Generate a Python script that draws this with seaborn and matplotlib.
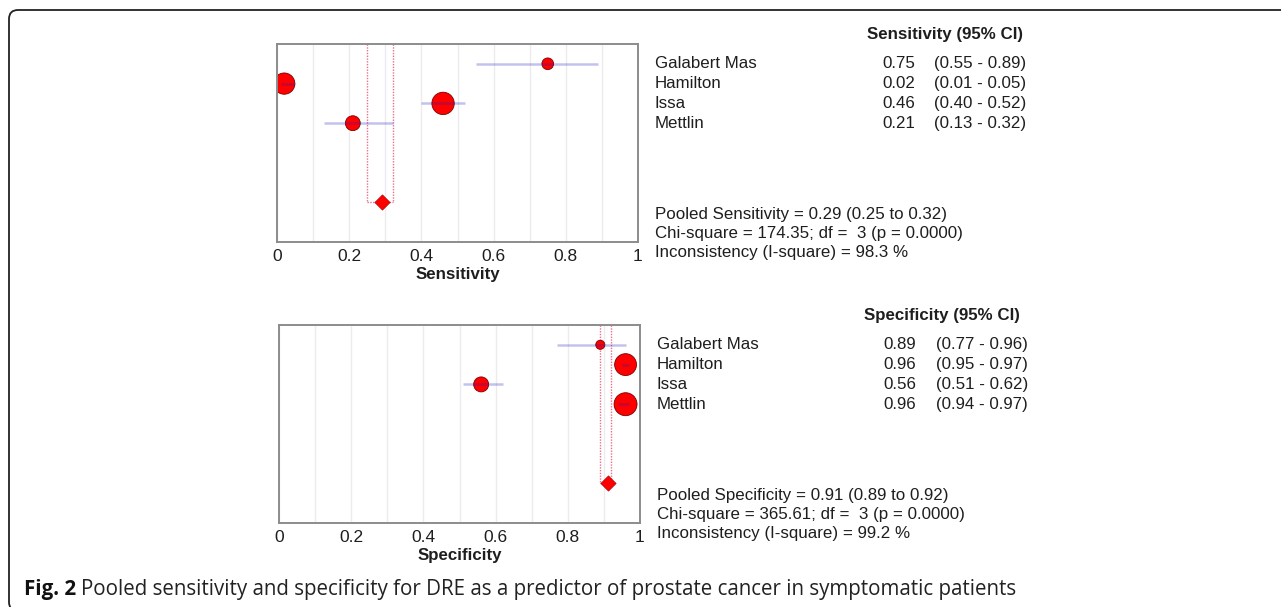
import numpy as np
import pandas as pd
import matplotlib
matplotlib.use("Agg")
import matplotlib.pyplot as plt
import matplotlib.transforms as mtransforms
from matplotlib.patches import FancyBboxPatch
import seaborn as sns

studies = ["Galabert Mas", "Hamilton", "Issa", "Mettlin"]

sens = [0.75, 0.02, 0.46, 0.21]
sens_lo = [0.55, 0.01, 0.40, 0.13]
sens_hi = [0.89, 0.05, 0.52, 0.32]
sens_weight = [10.4, 34.5, 38.1, 16.9]
sens_pooled = [0.29, 0.25, 0.32]
sens_chi = [174.35, 3, 0.0000]
sens_isq = 98.3

spec = [0.89, 0.96, 0.56, 0.96]
spec_lo = [0.77, 0.95, 0.51, 0.94]
spec_hi = [0.96, 0.97, 0.62, 0.97]
spec_weight = [6.3, 36.4, 17.1, 40.2]
spec_pooled = [0.91, 0.89, 0.92]
spec_chi = [365.61, 3, 0.0000]
spec_isq = 99.2

tick_vals = [0, 0.2, 0.4, 0.6, 0.8, 1]
tick_labels = ["0", "0.2", "0.4", "0.6", "0.8", "1"]

caption_bold = "Fig. 2"
caption = ("Pooled sensitivity and specificity for DRE as a predictor of "
           "prostate cancer in symptomatic patients")

sns.set_style("white")
plt.rcParams['font.family'] = ['Liberation Sans', 'DejaVu Sans']

fig = plt.figure(figsize=(12.81, 6.07), dpi=100)

POOLED_ROW = 8
txt_col = "#1e1e1e"


def panel(rect, name, est, lo, hi, weight, pooled, chi, isq, xcol):
    ax = fig.add_axes(rect)
    rows = np.arange(1, len(studies) + 1)
    df = pd.DataFrame({"study": studies, "est": est, "lo": lo, "hi": hi,
                       "weight": weight, "row": rows})

    # pooled CI box (dotted)
    ax.vlines([pooled[1], pooled[2]], 0, POOLED_ROW, colors="#e8708a",
              linestyles=(0, (1, 1)), lw=1, zorder=1.5)
    ax.hlines(POOLED_ROW, pooled[1], pooled[2], colors="#e8708a",
              linestyles=(0, (1, 1)), lw=1, zorder=1.5)

    sns.scatterplot(data=df, x="est", y="row", size="weight",
                    sizes=(0, 680), size_norm=(0, 100), color="#ff0000",
                    edgecolor="#7a0000", linewidth=0.6, legend=False,
                    ax=ax, zorder=2)
    ax.hlines(df["row"], df["lo"], df["hi"], colors="#2020c0", alpha=0.27,
              lw=1.8, zorder=3)

    sns.scatterplot(x=[pooled[0]], y=[POOLED_ROW], marker="D", s=60,
                    color="#ff0000", edgecolor="#b00000", linewidth=0.5,
                    ax=ax, zorder=4)

    ax.set_xlim(0, 1)
    ax.set_ylim(10, 0)
    ax.set_yticks([])
    ax.set_xticks(tick_vals)
    ax.set_xticklabels(tick_labels, fontsize=12.5, color=txt_col)
    ax.set_xticks(np.arange(0.1, 1.0, 0.2), minor=True)
    ax.grid(True, axis="x", which="both", color="#ebebf0", lw=1)
    ax.tick_params(axis="x", which="both", length=0, pad=5)
    ax.set_xlabel(name, fontsize=12.2, fontweight="bold", color=txt_col,
                  labelpad=2)
    ax.set_ylabel("")
    for sp in ax.spines.values():
        sp.set_color("#8c8c8c")
        sp.set_linewidth(1.4)

    tr = mtransforms.blended_transform_factory(fig.transFigure, ax.transData)
    fs = 12.2
    ax.text(xcol[3], -0.5, f"{name} (95% CI)", transform=tr, ha="center",
            va="center", fontsize=fs, fontweight="bold", color=txt_col)
    for r, s, e, l, h in zip(rows, studies, est, lo, hi):
        ax.text(xcol[0], r, s, transform=tr, ha="left", va="center",
                fontsize=fs, color=txt_col)
        ax.text(xcol[1], r, f"{e:.2f}", transform=tr, ha="right",
                va="center", fontsize=fs, color=txt_col)
        ax.text(xcol[2], r, f"({l:.2f} - {h:.2f})", transform=tr, ha="left",
                va="center", fontsize=fs, color=txt_col)
    lines = [
        f"Pooled {name} = {pooled[0]:.2f} ({pooled[1]:.2f} to {pooled[2]:.2f})",
        f"Chi-square = {chi[0]:.2f}; df =  {chi[1]} (p = {chi[2]:.4f})",
        f"Inconsistency (I-square) = {isq:.1f} %",
    ]
    for k, t in enumerate(lines):
        ax.text(xcol[0], 8.6 + 0.96 * k, t, transform=tr, ha="left",
                va="center", fontsize=fs, color=txt_col)
    return ax


panel([277 / 1281, 1 - 242 / 607, 361 / 1281, 198 / 607], "Sensitivity",
      sens, sens_lo, sens_hi, sens_weight, sens_pooled, sens_chi, sens_isq,
      [655 / 1281, 915 / 1281, 934 / 1281, 945 / 1281])
panel([279 / 1281, 1 - 523 / 607, 361 / 1281, 198 / 607], "Specificity",
      spec, spec_lo, spec_hi, spec_weight, spec_pooled, spec_chi, spec_isq,
      [657 / 1281, 916 / 1281, 936 / 1281, 942 / 1281])

# rounded frame around the figure
frame = FancyBboxPatch((9, -4), 1320, 601,
                       boxstyle="round,pad=0,rounding_size=9",
                       transform=mtransforms.IdentityTransform(),
                       fill=False, edgecolor="#222222", lw=1.3)
fig.patches.append(frame)

cap_y = 1 - 589 / 607
t1 = fig.text(24 / 1281, cap_y, caption_bold, fontsize=14.8,
              fontweight="bold", family=["Open Sans", "DejaVu Sans"],
              ha="left", va="center", color="#111111")
fig.canvas.draw()
bb = t1.get_window_extent(fig.canvas.get_renderer())
fig.text((bb.x1 + 5) / 1281, cap_y, caption, fontsize=14.8,
         family=["Open Sans", "DejaVu Sans"], ha="left", va="center",
         color="#222222")

fig.savefig("out.png", dpi=100)
